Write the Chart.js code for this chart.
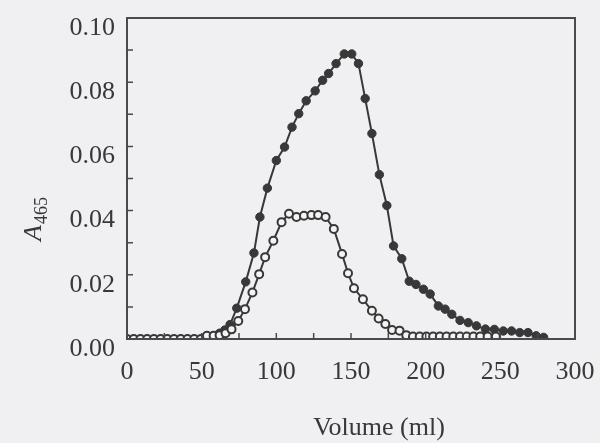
<!DOCTYPE html>
<html>
<head>
<meta charset="utf-8">
<script src="https://cdn.jsdelivr.net/npm/chart.js@4/dist/chart.umd.min.js"></script>
<style>
  body { margin: 0; background: #f0f0f2; }
  #wrap { width: 600px; height: 443px; }
</style>
</head>
<body>
<div id="wrap"><canvas id="chart"></canvas></div>
<script>
// values
const filledVolume = [53, 57.5, 62, 65.5, 69, 73.5, 79.5, 85, 89, 94,
  100, 105.5, 110.5, 115, 120, 126, 131, 135, 140, 145.5,
  150.5, 155, 159.5, 164, 169, 174, 178.5, 184, 189, 193.5,
  198.5, 203, 208.5, 213, 217.5, 223, 228.5, 234, 240, 246,
  252, 257.5, 263, 268.5, 274, 279];
const filledA465 = [0.0005, 0.001, 0.0018, 0.0028, 0.0045, 0.0096, 0.0178, 0.0268, 0.038, 0.047,
  0.0556, 0.0598, 0.066, 0.0702, 0.0742, 0.0773, 0.0806, 0.0827, 0.0858, 0.0888,
  0.0888, 0.0858, 0.0749, 0.064, 0.0512, 0.0416, 0.029, 0.025, 0.018, 0.017,
  0.0155, 0.014, 0.0103, 0.0093, 0.0077, 0.0058, 0.0051, 0.0041, 0.0031, 0.003,
  0.0025, 0.0025, 0.002, 0.002, 0.001, 0.0005];

const openVolume = [0, 4.5, 9, 13.5, 18, 22.5, 27, 31.5, 36, 40.5, 45, 49.5,
  53.5, 58, 62, 66, 70, 74.5, 79, 84, 88.5, 92.5,
  98, 103.5, 108.5, 113.5, 118.5, 123.5, 128, 133, 138.5, 144,
  148, 152, 158, 164, 168.5, 173, 177.5, 182.5, 187,
  191.5, 196, 200.5, 205, 209.5, 214, 218.5, 223, 227.5, 232, 236.5, 241.5, 247];
const openA465 = [0, 0, 0, 0, 0, 0, 0, 0, 0, 0, 0, 0,
  0.001, 0.001, 0.0012, 0.0018, 0.003, 0.0056, 0.0093, 0.0145, 0.0202, 0.0255,
  0.0306, 0.0364, 0.039, 0.038, 0.0384, 0.0386, 0.0386, 0.038, 0.0343, 0.0265,
  0.0205, 0.0158, 0.0124, 0.0088, 0.0064, 0.0047, 0.0028, 0.0026, 0.0012,
  0.0008, 0.0008, 0.0008, 0.0008, 0.0008, 0.0008, 0.0008, 0.0008, 0.0008, 0.0008, 0.0008, 0.0008, 0.0008];

const xTicks = [0, 50, 100, 150, 200, 250, 300];
const yTicks = [0, 0.02, 0.04, 0.06, 0.08, 0.10];
const xMinorTicks = [25, 50, 75, 100, 125, 150, 175, 200, 225, 250, 275];
const yMinorTicks = [0.01, 0.02, 0.03, 0.04, 0.05, 0.06, 0.07, 0.08, 0.09];

const ink = '#383838';
const serif = '"Liberation Serif", "Times New Roman", serif';

function toPoints(xs, ys) {
  return xs.map((x, i) => ({ x: x, y: ys[i] }));
}

// frame, inward ticks and the two axis titles
const framePlugin = {
  id: 'frame',
  beforeDraw(chart) {
    const ctx = chart.ctx;
    ctx.save();
    ctx.fillStyle = '#f0f0f2';
    ctx.fillRect(0, 0, chart.width, chart.height);
    ctx.restore();
  },
  afterDraw(chart) {
    const ctx = chart.ctx;
    const a = chart.chartArea;
    const xs = chart.scales.x;
    const ys = chart.scales.y;
    ctx.save();
    ctx.strokeStyle = '#4a4a4a';
    ctx.lineWidth = 2;
    ctx.strokeRect(a.left, a.top, a.right - a.left, a.bottom - a.top);

    ctx.lineWidth = 1.5;
    ctx.beginPath();
    yMinorTicks.forEach(v => {
      const py = ys.getPixelForValue(v);
      ctx.moveTo(a.left, py);
      ctx.lineTo(a.left + 6, py);
    });
    xMinorTicks.forEach(v => {
      const px = xs.getPixelForValue(v);
      ctx.moveTo(px, a.bottom);
      ctx.lineTo(px, a.bottom - 6);
    });
    ctx.stroke();

    // x title
    ctx.fillStyle = ink;
    ctx.font = '26px ' + serif;
    ctx.textAlign = 'center';
    ctx.textBaseline = 'middle';
    ctx.fillText('Volume (ml)', 379, 428);

    // y title: italic A with subscript 465
    ctx.translate(41, 241);
    ctx.rotate(-Math.PI / 2);
    ctx.textAlign = 'left';
    ctx.textBaseline = 'alphabetic';
    ctx.font = 'italic 26px ' + serif;
    ctx.fillText('A', 0, 0);
    const w = ctx.measureText('A').width;
    ctx.font = '18px ' + serif;
    ctx.fillText('465', w + 1, 6);
    ctx.restore();
  }
};

new Chart(document.getElementById('chart'), {
  type: 'line',
  data: {
    datasets: [
      {
        label: 'open',
        data: toPoints(openVolume, openA465),
        borderColor: ink,
        borderWidth: 2,
        pointRadius: 4,
        pointBorderWidth: 2,
        pointBackgroundColor: '#f4f4f5',
        pointBorderColor: ink,
        tension: 0
      },
      {
        label: 'filled',
        data: toPoints(filledVolume, filledA465),
        borderColor: ink,
        borderWidth: 2,
        pointRadius: 4.2,
        pointBorderWidth: 1,
        pointBackgroundColor: ink,
        pointBorderColor: ink,
        tension: 0
      }
    ]
  },
  options: {
    responsive: true,
    maintainAspectRatio: false,
    animation: false,
    layout: { padding: { top: 18, right: 25, left: 0, bottom: 0 } },
    plugins: {
      legend: { display: false },
      tooltip: { enabled: false }
    },
    scales: {
      x: {
        type: 'linear',
        min: 0,
        max: 300,
        grid: { display: false },
        border: { display: false },
        afterFit: s => {
          s.height = 104;
          s.paddingLeft = 0;
          s.paddingRight = 0;
        },
        afterBuildTicks: s => { s.ticks = xTicks.map(v => ({ value: v })); },
        ticks: {
          color: ink,
          padding: 10,
          font: { family: serif, size: 26 }
        }
      },
      y: {
        min: 0,
        max: 0.1,
        grid: { display: false },
        border: { display: false },
        afterFit: s => {
          s.width = 127;
          s.paddingTop = 0;
          s.paddingBottom = 0;
        },
        afterBuildTicks: s => { s.ticks = yTicks.map(v => ({ value: v })); },
        ticks: {
          color: ink,
          padding: 4,
          labelOffset: 10,
          font: { family: serif, size: 26 },
          callback: v => v.toFixed(2)
        }
      }
    }
  },
  plugins: [framePlugin]
});
</script>
</body>
</html>
